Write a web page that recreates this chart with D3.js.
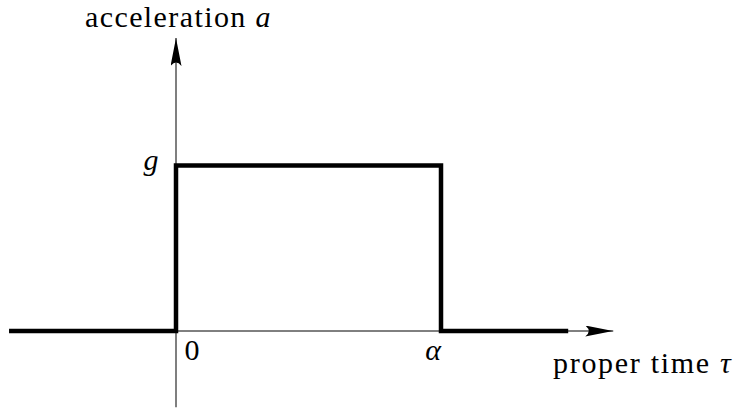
<!DOCTYPE html>
<html>
<head>
<meta charset="utf-8">
<script src="https://cdn.jsdelivr.net/npm/d3@7"></script>
<style>
  body { margin: 0; background: #fff; }
</style>
</head>
<body>
<svg id="chart" width="742" height="411"></svg>
<script>
// step profile of acceleration vs proper time (tau in units of alpha, a in units of g)
var stepTau = [-0.63, 0, 0, 1, 1, 1.48];
var stepAccel = [0, 0, 1, 1, 0, 0];
var xTickValues = [0, 1];
var xTickLabels = ['0', 'α'];
var yTickValues = [1];
var yTickLabels = ['g'];
var xAxisRange = [-0.63, 1.65];
var yAxisRange = [-0.46, 1.77];

var FONT = '"Liberation Serif"';
var svg = d3.select('#chart');

var x = d3.scaleLinear().domain([0, 1]).range([176, 441]);
var y = d3.scaleLinear().domain([0, 1]).range([331, 165.5]);

var defs = svg.append('defs');
// latex-style arrow head
defs.append('marker')
  .attr('id', 'arrowX')
  .attr('viewBox', '0 0 28 11')
  .attr('refX', 28).attr('refY', 5.5)
  .attr('markerWidth', 28).attr('markerHeight', 11)
  .attr('markerUnits', 'userSpaceOnUse')
  .attr('orient', 'auto')
  .append('path')
  .attr('d', 'M0,0 Q7,5.5 0,11 L28,5.5 Z')
  .attr('fill', '#000');

// x axis
svg.append('line')
  .attr('x1', x(xAxisRange[0])).attr('x2', x(xAxisRange[1]))
  .attr('y1', y(0)).attr('y2', y(0))
  .attr('stroke', '#000').attr('stroke-width', 1)
  .attr('marker-end', 'url(#arrowX)');

// y axis
svg.append('line')
  .attr('x1', x(0)).attr('x2', x(0))
  .attr('y1', y(yAxisRange[0])).attr('y2', y(yAxisRange[1]))
  .attr('stroke', '#555').attr('stroke-width', 1.5)
  .attr('marker-end', 'url(#arrowX)');

// the step line
var pts = stepTau.map(function (t, i) { return [t, stepAccel[i]]; });
svg.append('path')
  .datum(pts)
  .attr('d', d3.line().x(function (d) { return x(d[0]); }).y(function (d) { return y(d[1]); }))
  .attr('fill', 'none')
  .attr('stroke', '#000')
  .attr('stroke-width', 4.5)
  .attr('stroke-linejoin', 'miter')
  .attr('stroke-linecap', 'butt');

// tick labels
svg.selectAll('text.xtick')
  .data(xTickValues)
  .enter().append('text')
  .attr('class', 'xtick')
  .attr('x', function (d) { return x(d) + (d === 0 ? 16 : -8); })
  .attr('y', 360)
  .attr('text-anchor', 'middle')
  .style('font-family', FONT)
  .style('font-size', '30px')
  .style('fill', '#000')
  .style('font-style', function (d, i) { return i === 0 ? 'normal' : 'italic'; })
  .text(function (d, i) { return xTickLabels[i]; });

svg.selectAll('text.ytick')
  .data(yTickValues)
  .enter().append('text')
  .attr('class', 'ytick')
  .attr('x', x(0) - 25)
  .attr('y', function (d) { return y(d) + 4; })
  .attr('text-anchor', 'middle')
  .style('font-family', FONT)
  .style('font-size', '30px')
  .style('fill', '#000')
  .style('font-style', 'italic')
  .text(function (d, i) { return yTickLabels[i]; });

// axis titles
var yTitle = svg.append('text')
  .attr('x', 85).attr('y', 27)
  .style('font-family', FONT)
  .style('font-size', '30px')
  .style('fill', '#000')
  .style('letter-spacing', '1.4px');
yTitle.append('tspan').text('acceleration ');
yTitle.append('tspan').style('font-style', 'italic').text('a');

var xTitle = svg.append('text')
  .attr('x', 553).attr('y', 373)
  .style('font-family', FONT)
  .style('font-size', '30px')
  .style('fill', '#000')
  .style('letter-spacing', '1.7px');
xTitle.append('tspan').text('proper time ');
xTitle.append('tspan').style('font-style', 'italic').text('τ');
</script>
</body>
</html>
